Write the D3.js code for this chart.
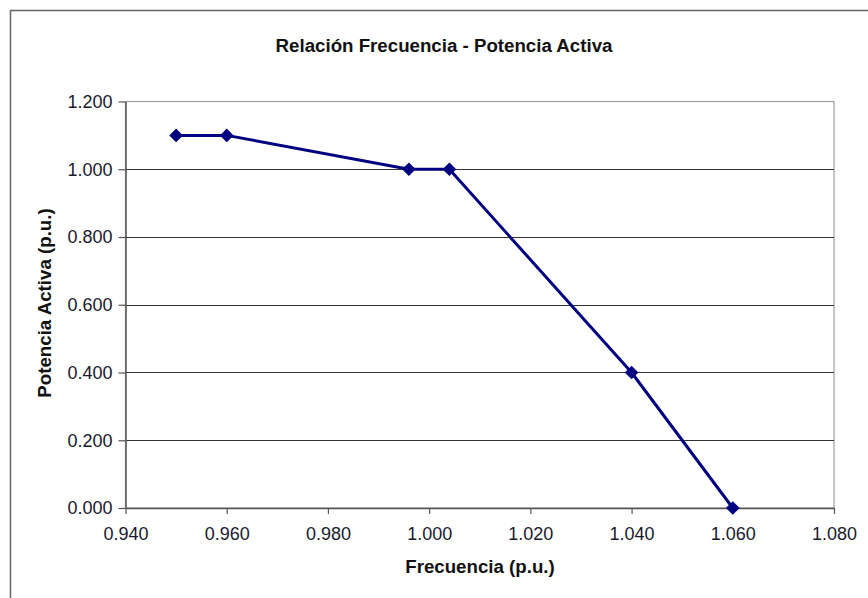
<!DOCTYPE html>
<html>
<head>
<meta charset="utf-8">
<script src="https://cdn.jsdelivr.net/npm/d3@7"></script>
<style>
  html, body { margin: 0; padding: 0; background: #fff; }
  svg { display: block; font-family: "Liberation Sans", Arial, sans-serif; }
</style>
</head>
<body>
<svg id="chart" width="868" height="598"></svg>
<script>
// Frequency (p.u.) vs active power (p.u.) droop characteristic
const frecuencia = [0.950, 0.960, 0.996, 1.004, 1.040, 1.060];
const potencia   = [1.100, 1.100, 1.000, 1.000, 0.400, 0.000];
const xTicks = [0.940, 0.960, 0.980, 1.000, 1.020, 1.040, 1.060, 1.080];
const yTicks = [0.000, 0.200, 0.400, 0.600, 0.800, 1.000, 1.200];

const title  = "Relación Frecuencia - Potencia Activa";
const xTitle = "Frecuencia (p.u.)";
const yTitle = "Potencia Activa (p.u.)";

const svg = d3.select("#chart");
const W = 868, H = 598;
const plot = { left: 125.5, top: 101.5, right: 834, bottom: 508 };

// Chart area frame
svg.append("rect")
  .attr("x", 10.5).attr("y", 10.5)
  .attr("width", W + 10).attr("height", H + 10)
  .attr("fill", "#fff").attr("stroke", "#666").attr("stroke-width", 1.5);

const x = d3.scaleLinear().domain([0.94, 1.08]).range([plot.left, plot.right]);
const y = d3.scaleLinear().domain([0, 1.2]).range([plot.bottom, plot.top]);
const fmt = d3.format(".3f");

// Plot area border (top/right)
svg.append("rect")
  .attr("x", plot.left).attr("y", plot.top)
  .attr("width", plot.right - plot.left).attr("height", plot.bottom - plot.top)
  .attr("fill", "none").attr("stroke", "#a0a0a0").attr("stroke-width", 1.2);

// Horizontal gridlines
svg.append("g")
  .selectAll("line")
  .data(yTicks.filter(v => v > 0 && v < 1.2))
  .join("line")
  .attr("x1", plot.left).attr("x2", plot.right)
  .attr("y1", d => Math.round(y(d)) + 0.5).attr("y2", d => Math.round(y(d)) + 0.5)
  .attr("stroke", "#333").attr("stroke-width", 1);

// Axes
const xAxis = svg.append("g")
  .attr("transform", `translate(0,${plot.bottom})`)
  .call(d3.axisBottom(x).tickValues(xTicks).tickFormat(fmt).tickSize(6).tickSizeOuter(0).tickPadding(13));
const yAxis = svg.append("g")
  .attr("transform", `translate(${plot.left},0)`)
  .call(d3.axisLeft(y).tickValues(yTicks).tickFormat(fmt).tickSize(7).tickSizeOuter(0).tickPadding(6));

[xAxis, yAxis].forEach(g => {
  g.select(".domain").attr("stroke", "#555").attr("stroke-width", 1.5);
  g.selectAll(".tick line").attr("stroke", "#555").attr("stroke-width", 1.2);
  g.selectAll(".tick text")
    .attr("fill", "#1a1a2e")
    .style("font-size", "18px")
    .style("font-family", "'Liberation Sans', Arial, sans-serif");
});

// Series line
const pts = frecuencia.map((f, i) => [f, potencia[i]]);
svg.append("path")
  .datum(pts)
  .attr("fill", "none")
  .attr("stroke", "#000080")
  .attr("stroke-width", 3)
  .attr("stroke-linejoin", "round")
  .attr("d", d3.line().x(d => x(d[0])).y(d => y(d[1])));

// Diamond markers
svg.append("g")
  .selectAll("path")
  .data(pts)
  .join("path")
  .attr("transform", d => `translate(${x(d[0])},${y(d[1])})`)
  .attr("d", d3.symbol(d3.symbolDiamond2, 120)())
  .attr("fill", "#000080");

// Titles
svg.append("text")
  .attr("x", 444).attr("y", 52)
  .attr("text-anchor", "middle")
  .style("font-size", "18.7px").style("font-weight", "bold")
  .attr("fill", "#111")
  .text(title);

svg.append("text")
  .attr("x", 480).attr("y", 573)
  .attr("text-anchor", "middle")
  .style("font-size", "18.7px").style("font-weight", "bold")
  .attr("fill", "#111")
  .text(xTitle);

svg.append("text")
  .attr("transform", "translate(51,303) rotate(-90)")
  .attr("text-anchor", "middle")
  .style("font-size", "18.7px").style("font-weight", "bold")
  .attr("fill", "#111")
  .text(yTitle);
</script>
</body>
</html>
